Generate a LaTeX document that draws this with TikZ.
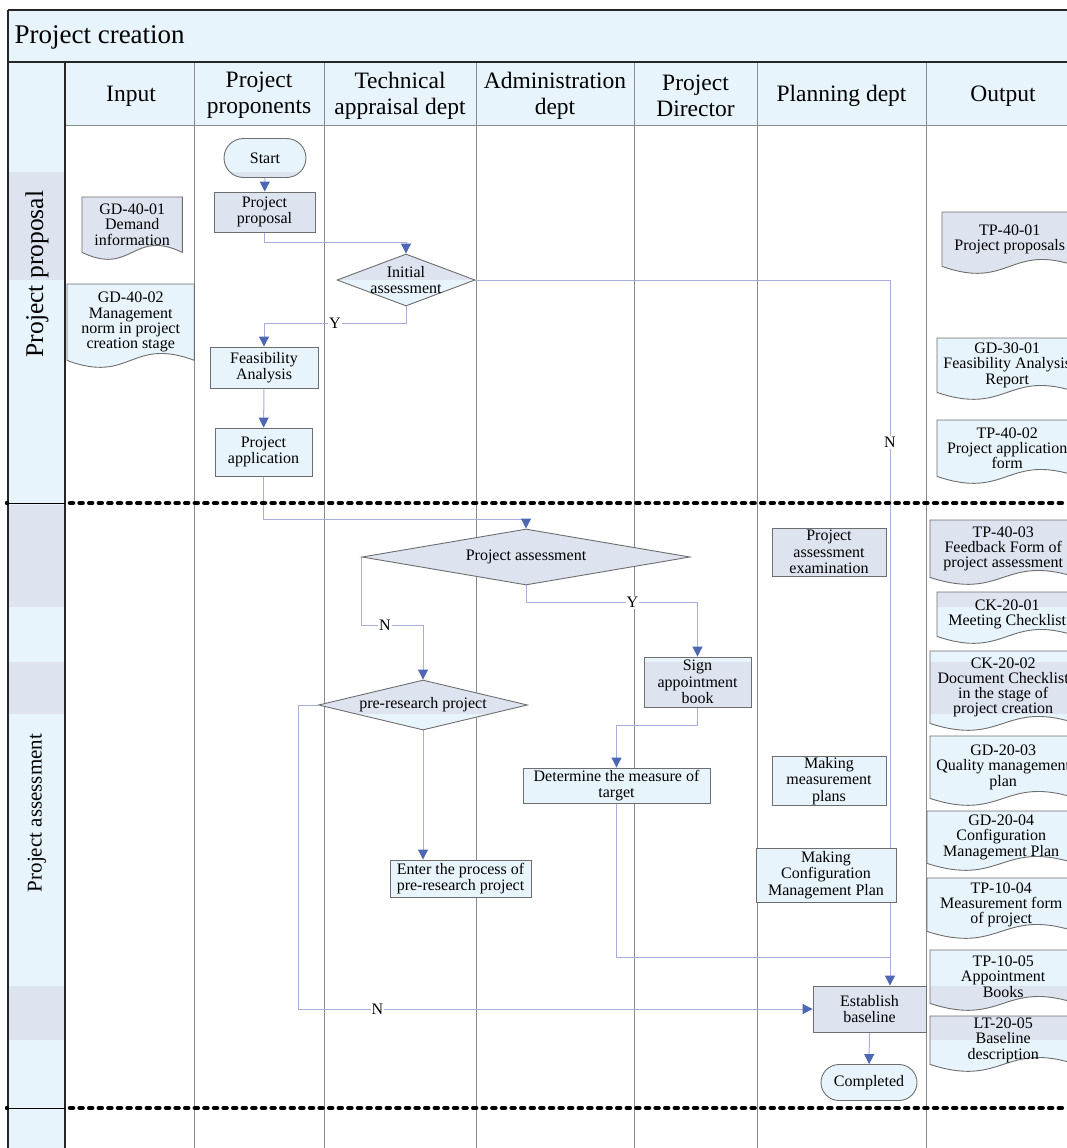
\documentclass[tikz,border=0pt]{standalone}
\usepackage{fontspec}
\setmainfont{Liberation Serif}
\usepackage{tikz}
\usetikzlibrary{shapes.geometric,shapes.misc,arrows.meta,calc}
\pgfdeclarelayer{bg}
\pgfsetlayers{bg,main}

\definecolor{lightband}{HTML}{E8F4FB}
\definecolor{grayband}{HTML}{DEE3F0}
\definecolor{laneline}{HTML}{8A8A8A}
\definecolor{boxline}{HTML}{6E6E6E}
\definecolor{flowline}{HTML}{A6AEDC}
\definecolor{flowtip}{HTML}{4D67B3}

\newcommand{\titlefont}{\fontsize{27}{30}\selectfont}
\newcommand{\headfont}{\fontsize{23.5}{26}\selectfont}
\newcommand{\nodefont}{\fontsize{16}{16.5}\selectfont}
\newcommand{\docfont}{\fontsize{16}{15.2}\selectfont}

\tikzset{
  banded/.style={fill=lightband,
    path picture={\foreach \i in {1,...,4}
      \fill[grayband] (bandtop\i) rectangle (bandbot\i);}},
  box/.style={rectangle, draw=boxline, line width=0.9pt, banded,
    align=center, inner sep=1pt, font=\nodefont},
  term/.style={box, rounded rectangle},
  decision/.style={diamond, draw=boxline, line width=0.9pt, banded, inner sep=0pt},
  dtext/.style={align=center, inner sep=0pt, font=\nodefont},
  doc/.style={anchor=north west, align=center, inner sep=0pt, font=\docfont},
  docedge/.style={draw=boxline, line width=0.9pt, banded},
  lane/.style={draw=laneline, line width=1pt},
  outerline/.style={draw=black!85, line width=1.2pt},
  flow/.style={draw=flowline, line width=1pt,
    -{Triangle[width=10pt,length=10pt,color=flowtip]}},
  conn/.style={draw=flowline, line width=1pt},
  yn/.style={fill=white, inner sep=1pt, font=\nodefont},
  stageline/.style={draw=black, line width=4.5pt, line cap=round,
    dash pattern=on 3pt off 6.6pt},
  head/.style={align=center, font=\headfont},
}

% document symbol with a wavy lower edge, drawn behind its node
\newcommand{\docshape}[1]{%
  \begin{pgfonlayer}{bg}
    \path[docedge] (#1.north west) -- (#1.north east) -- (#1.south east)
      .. controls ($(#1.south)+(0,-24)$) and ($(#1.south)+(0,24)$) .. (#1.south west)
      -- cycle;
  \end{pgfonlayer}}

\begin{document}
\begin{tikzpicture}[x=1pt,y=-1pt]
  \useasboundingbox (0,0) rectangle (1066,1148);
  \clip (0,0) rectangle (1066,1148);

  % shaded bands that show through the stage column and the boxes
  \foreach \i/\a/\b in {1/172/280,2/505/607,3/662/714,4/986/1040}{
    \coordinate (bandtop\i) at (0,\a);
    \coordinate (bandbot\i) at (1100,\b);
  }

  %% Frame, header and lanes
  \begin{pgfonlayer}{bg}
    \fill[lightband] (8,10) rectangle (1100,62);
    \fill[lightband] (65,62) rectangle (1100,125);
    \path[banded] (8,62) rectangle (65,1148);
    \foreach \x in {194,324,476,634,757,926}
      \draw[lane] (\x,62) -- (\x,1148);
    \draw[lane] (65,125) -- (1100,125);
    \draw[outerline] (8,10) -- (1100,10);
    \draw[outerline] (8,10) -- (8,1148);
    \draw[outerline] (8,62) -- (1100,62);
    \draw[outerline] (65,62) -- (65,1148);
  \end{pgfonlayer}

  \node[anchor=west, font=\titlefont] (title) at (11,37) {Project creation};

  \node[head] (hin) at (131,96) {Input};
  \node[head] (hprop) at (259,95.5) {Project\\proponents};
  \node[head] (htech) at (400,95.5) {Technical\\appraisal dept};
  \node[head] (hadm) at (555,95.5) {Administration\\dept};
  \node[head] (hdir) at (695.5,95.5) {Project\\Director};
  \node[head] (hplan) at (841.5,96) {Planning dept};
  \node[head] (hout) at (1003,96) {Output};

  % stages
  \node[rotate=90, font=\fontsize{25.5}{28}\selectfont] (sprop) at (37,274) {Project proposal};
  \node[rotate=90, font=\fontsize{21}{24}\selectfont] (sassess) at (37,813) {Project assessment};
  \foreach \y in {503,1108}{
    \draw[black, line width=0.8pt] (8,\y) -- (65,\y);
    \fill (7,\y) circle (2.2pt);
    \draw[stageline] (70,\y) -- (1100,\y);
  }

  %% Input documents
  \node[doc, minimum width=100pt, minimum height=55pt] (gd4001) at (82,197) {GD-40-01\\Demand\\information};
  \docshape{gd4001}
  \node[doc, minimum width=127pt, minimum height=76pt] (gd4002) at (67,284) {GD-40-02\\Management\\norm in project\\creation stage};
  \docshape{gd4002}

  %% Output documents
  \node[doc, minimum width=135pt, minimum height=54pt] (tp4001) at (942,212) {TP-40-01\\Project proposals};
  \docshape{tp4001}
  \node[doc, minimum width=140pt, minimum height=54pt] (gd3001) at (937,338) {GD-30-01\\Feasibility Analysis\\Report};
  \docshape{gd3001}
  \node[doc, minimum width=140pt, minimum height=56pt] (tp4002) at (937,420) {TP-40-02\\Project application\\form};
  \docshape{tp4002}
  \node[doc, minimum width=146pt, minimum height=57pt] (tp4003) at (930,520) {TP-40-03\\Feedback Form of\\project assessment};
  \docshape{tp4003}
  \node[doc, minimum width=140pt, minimum height=44pt] (ck2001) at (937,592) {CK-20-01\\Meeting Checklist};
  \docshape{ck2001}
  \node[doc, minimum width=146pt, minimum height=72pt] (ck2002) at (930,651) {CK-20-02\\Document Checklist\\in the stage of\\project creation};
  \docshape{ck2002}
  \node[doc, minimum width=146pt, minimum height=62pt] (gd2003) at (930,736) {GD-20-03\\Quality management\\plan};
  \docshape{gd2003}
  \node[doc, minimum width=148pt, minimum height=52pt] (gd2004) at (927,811) {GD-20-04\\Configuration\\Management Plan};
  \docshape{gd2004}
  \node[doc, minimum width=148pt, minimum height=53pt] (tp1004) at (927,878) {TP-10-04\\Measurement form\\of project};
  \docshape{tp1004}
  \node[doc, minimum width=146pt, minimum height=53pt] (tp1005) at (930,950) {TP-10-05\\Appointment\\Books};
  \docshape{tp1005}
  \node[doc, minimum width=146pt, minimum height=48pt] (lt2005) at (930,1016) {LT-20-05\\Baseline\\description};
  \docshape{lt2005}

  %% Flow
  \node[term, minimum width=84pt, minimum height=39pt] (start) at (265,158) {Start};
  \node[box, minimum width=101pt, minimum height=40pt] (prop) at (264.5,212) {Project\\proposal};
  \node[decision, minimum width=138pt, minimum height=52pt] (init) at (406,280) {};
  \node[dtext] (initl) at (init) {Initial\\assessment};
  \node[box, minimum width=108pt, minimum height=41pt] (feas) at (264,367.5) {Feasibility\\Analysis};
  \node[box, minimum width=97pt, minimum height=48pt] (app) at (263.5,452) {Project\\application};

  \node[decision, minimum width=328pt, minimum height=56pt] (passess) at (526,557) {};
  \node[dtext] (passessl) at (passess) {Project assessment};
  \node[box, minimum width=114pt, minimum height=48pt] (pae) at (829,552) {Project\\assessment\\examination};
  \node[box, minimum width=107pt, minimum height=50pt] (sign) at (697.5,682) {Sign\\appointment\\book};
  \node[decision, minimum width=209pt, minimum height=50pt] (preres) at (423,705) {};
  \node[dtext] (preresl) at (preres) {pre-research project};
  \node[box, minimum width=187pt, minimum height=35pt] (det) at (616.5,785.5) {Determine the measure of\\target};
  \node[box, minimum width=114pt, minimum height=48pt] (mmp) at (829,781) {Making\\measurement\\plans};
  \node[box, minimum width=141pt, minimum height=37pt] (enter) at (460.5,878.5) {Enter the process of\\pre-research project};
  \node[box, minimum width=140pt, minimum height=54pt] (mcmp) at (826,875) {Making\\Configuration\\Management Plan};
  \node[box, minimum width=113pt, minimum height=46pt] (estab) at (869.5,1009) {Establish\\baseline};
  \node[term, minimum width=98pt, minimum height=36pt] (done) at (869,1082.5) {Completed};
  \coordinate (meet) at (890,957);

  % connectors stay behind the boxes
  \begin{pgfonlayer}{bg}
    \draw[flow] (start) -- (prop);
    \draw[flow] (prop.south) -- ++(0,10) -| (init.north);
    \draw[flow] (init.south) -- ++(0,17) -| node[yn, pos=0.25] {Y} (feas.north);
    \draw[flow] (feas) -- (app);
    \draw[conn] (init.east) -| node[yn, pos=0.62] {N} (meet);
    \draw[flow] (meet) -- (meet |- estab.north);
    \draw[flow] (app.south) -- ++(0,43) -| (passess.north);
    \draw[flow] (passess.west) -- ++(0,68) -| node[yn, pos=0.19] {N} (preres.north);
    \draw[flow] (passess.south) -- ++(0,17) -| node[yn, pos=0.31] {Y} (sign.north);
    \draw[flow] (sign.south) -- ++(0,18) -| (det.north);
    \draw[flow] (preres.south) -- (preres.south |- enter.north);
    \draw[flow] (preres.west) -- ++(-20,0) |- node[yn, pos=0.577] {N} (estab.west);
    \draw[conn] (det.south) |- (meet);
    \draw[flow] (estab) -- (done);
  \end{pgfonlayer}
\end{tikzpicture}
\end{document}
